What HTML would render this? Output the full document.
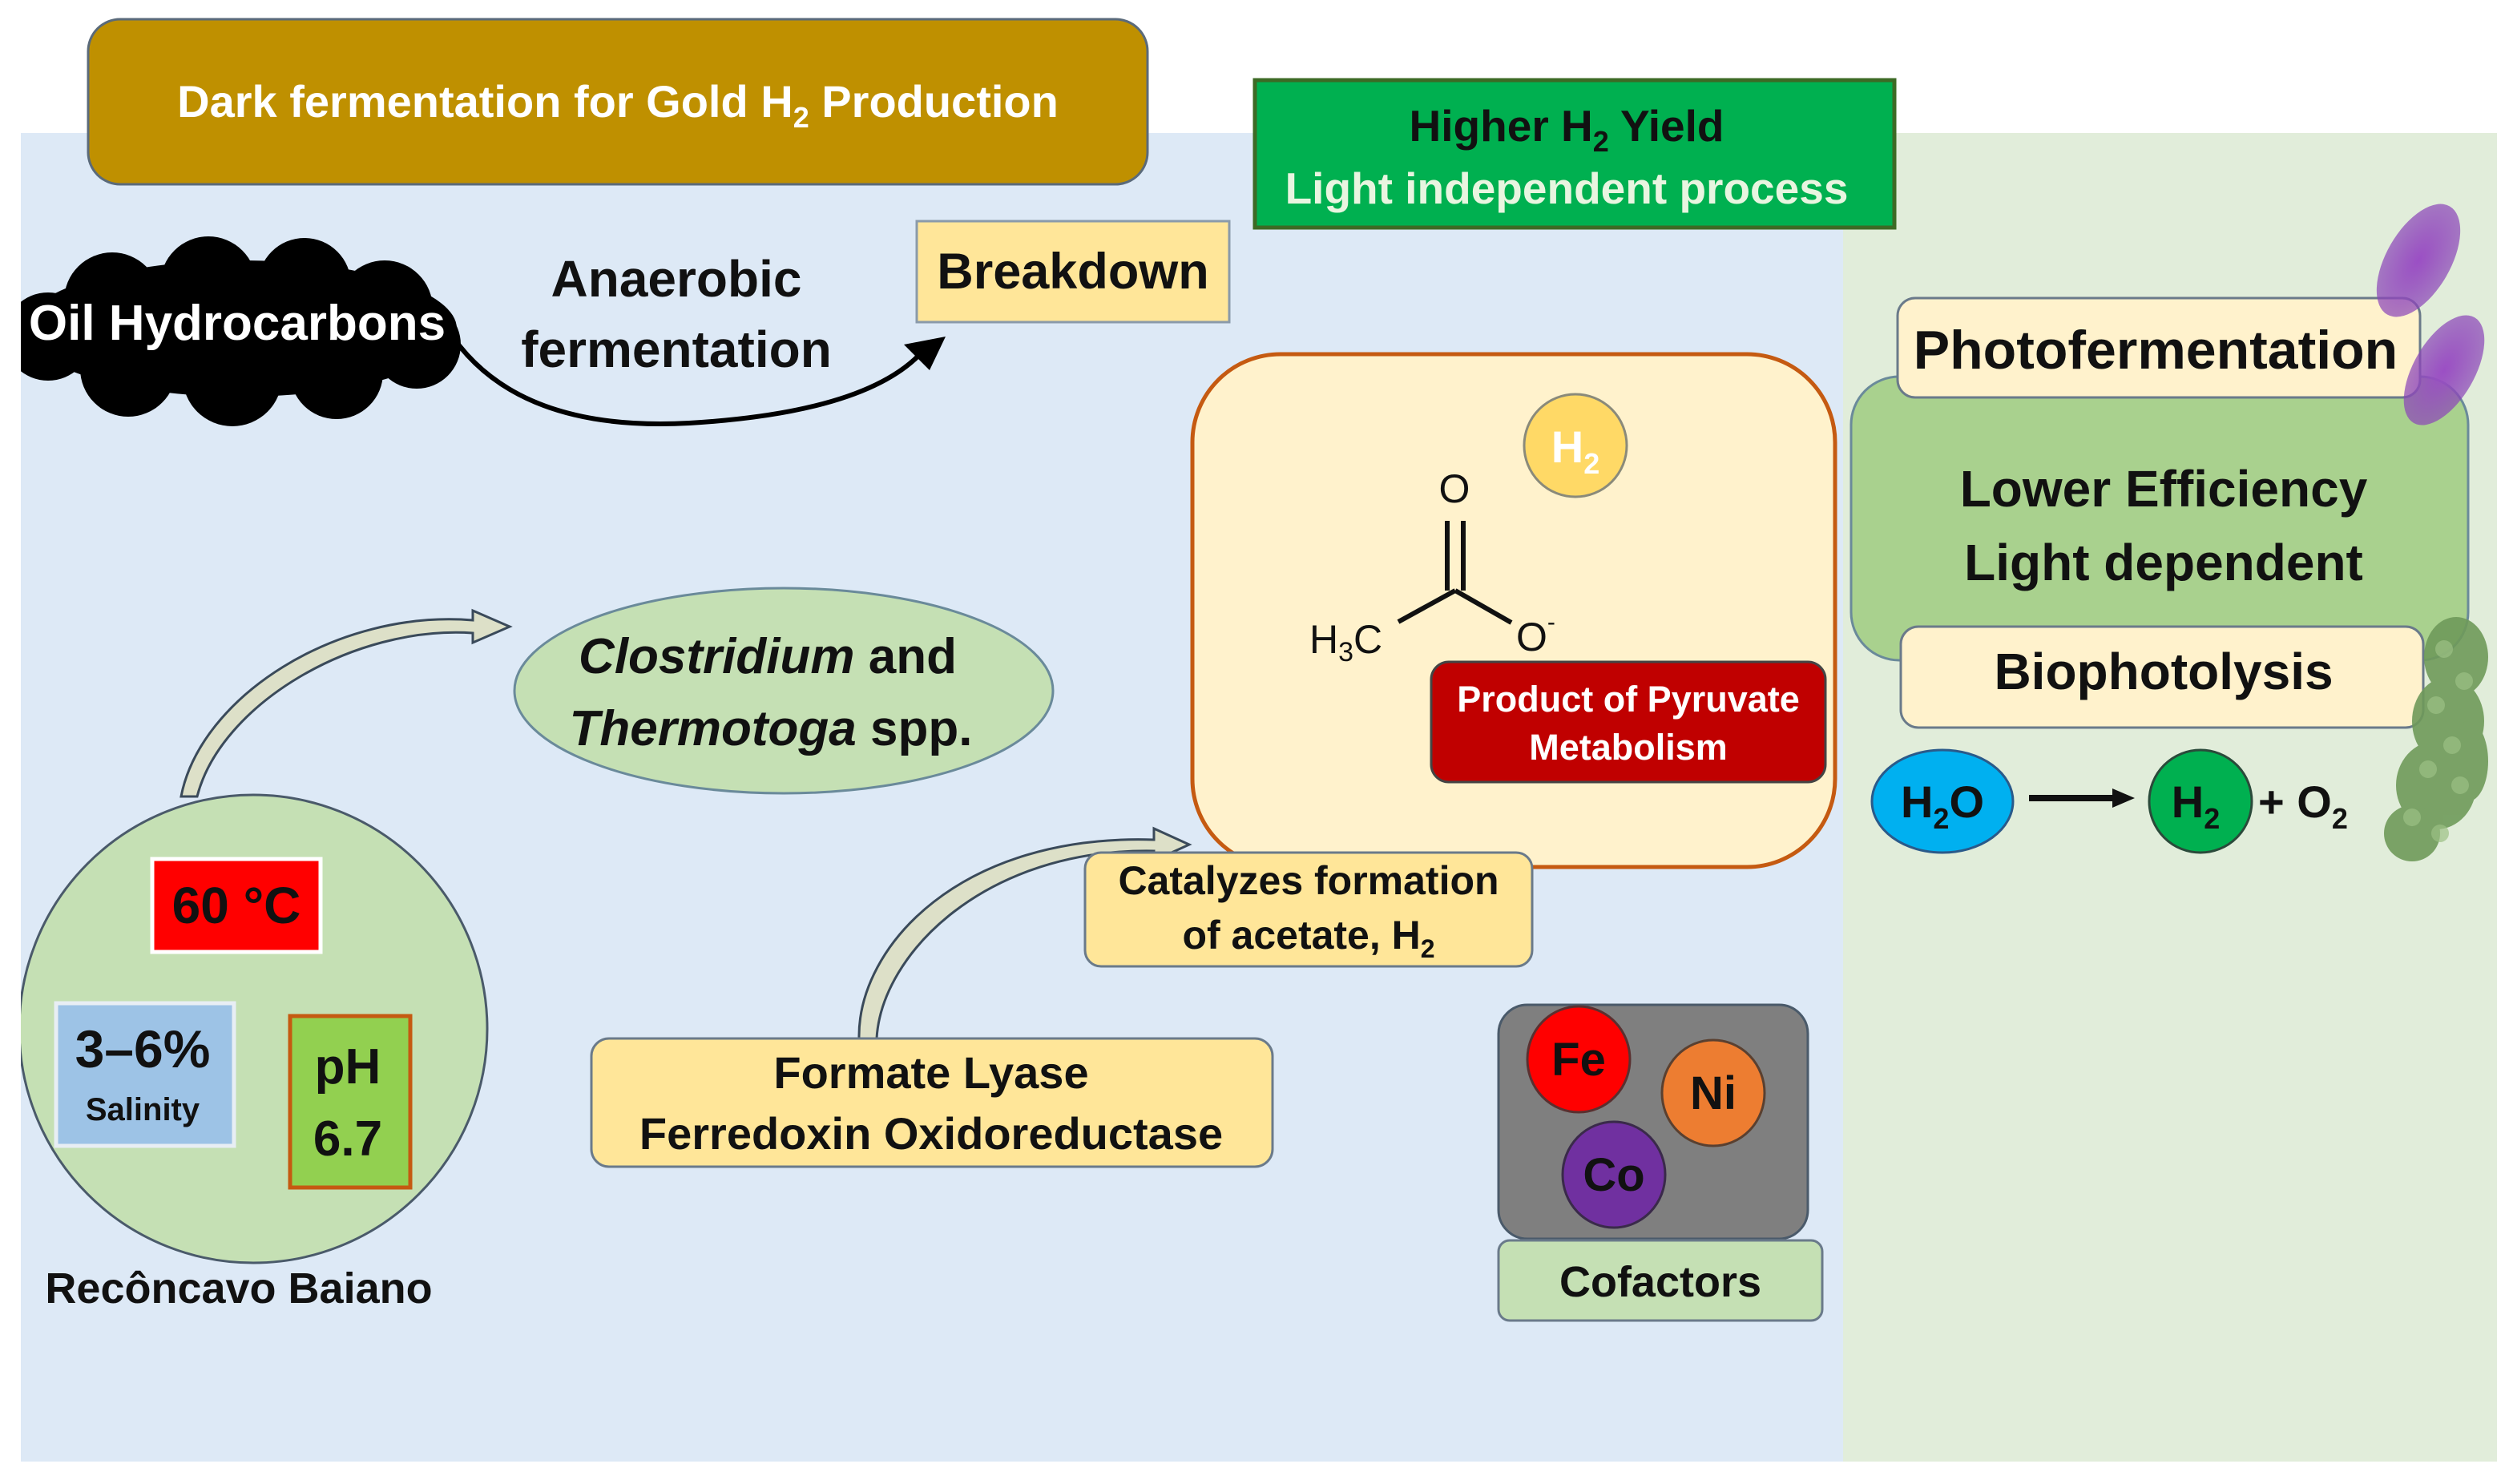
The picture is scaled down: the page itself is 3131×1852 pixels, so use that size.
<!DOCTYPE html>
<html><head><meta charset="utf-8"><style>
html,body{margin:0;padding:0;background:#fff;}
svg{display:block;}
text{font-family:"Liberation Sans",sans-serif;font-weight:bold;}
</style></head><body>
<svg width="3131" height="1852" viewBox="0 0 3131 1852" xmlns="http://www.w3.org/2000/svg">
<defs>
<clipPath id="cl"><rect x="26" y="0" width="3100" height="1852"/></clipPath>
<radialGradient id="pg" cx="50%" cy="50%" r="50%"><stop offset="0" stop-color="#9b4fc4"/><stop offset="1" stop-color="#8a44b8" stop-opacity="0.7"/></radialGradient>
</defs>
<rect x="26" y="166" width="2274" height="1658" fill="#dde9f6"/>
<rect x="2300" y="166" width="816" height="1658" fill="#e1edda"/>

<rect x="110" y="24" width="1322" height="206" rx="40" fill="#bf9000" stroke="#5a6a7a" stroke-width="3"/>
<text x="771" y="146" font-size="56" fill="#fff" text-anchor="middle">Dark fermentation for Gold H<tspan font-size="36" dy="13">2</tspan><tspan dy="-13"> Production</tspan></text>

<rect x="1566" y="100" width="798" height="184" fill="#00b050" stroke="#3d6a25" stroke-width="5"/>
<text x="1955" y="176" font-size="55" fill="#111" text-anchor="middle">Higher H<tspan font-size="36" dy="13">2</tspan><tspan dy="-13"> Yield</tspan></text>
<text x="1955" y="254" font-size="55" fill="#e8f5e0" text-anchor="middle">Light independent process</text>

<rect x="1144" y="276" width="390" height="126" fill="#ffe699" stroke="#8a9aaa" stroke-width="3"/>
<text x="1339" y="360" font-size="63" fill="#111" text-anchor="middle">Breakdown</text>

<g fill="#000" clip-path="url(#cl)">
<ellipse cx="300" cy="410" rx="270" ry="85"/>
<circle cx="140" cy="375" r="60"/><circle cx="260" cy="355" r="60"/><circle cx="380" cy="355" r="58"/>
<circle cx="480" cy="385" r="60"/><circle cx="520" cy="430" r="55"/><circle cx="420" cy="465" r="58"/>
<circle cx="290" cy="470" r="62"/><circle cx="160" cy="460" r="60"/><circle cx="60" cy="420" r="55"/>
</g>
<text x="296" y="424" font-size="62" fill="#fff" text-anchor="middle">Oil Hydrocarbons</text>

<text x="844" y="370" font-size="64" fill="#111" text-anchor="middle">Anaerobic</text>
<text x="844" y="458" font-size="64" fill="#111" text-anchor="middle">fermentation</text>
<path d="M558 410 Q640 540 860 528 Q1080 515 1150 440" fill="none" stroke="#000" stroke-width="6"/>
<polygon points="1180,420 1128,430 1160,462" fill="#000"/>

<rect x="1488" y="442" width="802" height="640" rx="110" fill="#fff2cc" stroke="#c55a11" stroke-width="5"/>
<circle cx="1966" cy="556" r="64" fill="#ffd966" stroke="#8a8a7a" stroke-width="3"/>
<text x="1966" y="577" font-size="56" fill="#fff" text-anchor="middle">H<tspan font-size="36" dy="14">2</tspan></text>
<g stroke="#111" stroke-width="6" fill="none">
<line x1="1806" y1="650" x2="1806" y2="737"/><line x1="1826" y1="650" x2="1826" y2="737"/>
<line x1="1816" y1="737" x2="1745" y2="776"/><line x1="1816" y1="737" x2="1886" y2="777"/>
</g>
<text x="1815" y="627" font-size="50" fill="#111" text-anchor="middle" style="font-weight:normal">O</text>
<text x="1634" y="815" font-size="50" fill="#111" style="font-weight:normal">H<tspan font-size="34" dy="10">3</tspan><tspan dy="-10">C</tspan></text>
<text x="1892" y="812" font-size="50" fill="#111" style="font-weight:normal">O<tspan font-size="30" dy="-26">-</tspan></text>
<rect x="1786" y="826" width="492" height="150" rx="22" fill="#c00000" stroke="#444" stroke-width="3"/>
<text x="2032" y="888" font-size="45" fill="#fff" text-anchor="middle">Product of Pyruvate</text>
<text x="2032" y="948" font-size="45" fill="#fff" text-anchor="middle">Metabolism</text>

<rect x="2310" y="470" width="770" height="354" rx="60" fill="#a9d18e" stroke="#6a8a9a" stroke-width="3"/>
<rect x="2368" y="372" width="652" height="124" rx="22" fill="#fff2cc" stroke="#6a7a8a" stroke-width="3"/>
<text x="2690" y="460" font-size="68" fill="#111" text-anchor="middle">Photofermentation</text>
<text x="2700" y="632" font-size="64" fill="#111" text-anchor="middle">Lower Efficiency</text>
<text x="2700" y="724" font-size="64" fill="#111" text-anchor="middle">Light dependent</text>
<rect x="2372" y="782" width="652" height="126" rx="22" fill="#fff2cc" stroke="#6a7a8a" stroke-width="3"/>
<text x="2700" y="860" font-size="64" fill="#111" text-anchor="middle">Biophotolysis</text>
<ellipse cx="3018" cy="325" rx="40" ry="78" transform="rotate(30 3018 325)" fill="url(#pg)"/>
<ellipse cx="3050" cy="462" rx="38" ry="76" transform="rotate(30 3050 462)" fill="url(#pg)"/>
<g fill="#6f9a5a" opacity="0.9">
<ellipse cx="3065" cy="820" rx="40" ry="50"/><ellipse cx="3055" cy="900" rx="45" ry="55"/><ellipse cx="3040" cy="980" rx="50" ry="55"/><ellipse cx="3010" cy="1040" rx="35" ry="35"/><ellipse cx="3080" cy="950" rx="25" ry="50"/>
</g>
<g fill="#9cc084" opacity="0.7">
<circle cx="3050" cy="810" r="11"/><circle cx="3075" cy="850" r="11"/><circle cx="3040" cy="880" r="11"/><circle cx="3060" cy="930" r="11"/><circle cx="3030" cy="960" r="11"/><circle cx="3070" cy="980" r="11"/><circle cx="3010" cy="1020" r="11"/><circle cx="3045" cy="1040" r="11"/>
</g>
<ellipse cx="2424" cy="1000" rx="88" ry="64" fill="#00b0f0" stroke="#2a5a8a" stroke-width="3"/>
<text x="2424" y="1020" font-size="56" fill="#111" text-anchor="middle">H<tspan font-size="36" dy="14">2</tspan><tspan dy="-14">O</tspan></text>
<line x1="2532" y1="996" x2="2640" y2="996" stroke="#111" stroke-width="8"/>
<polygon points="2664,996 2636,984 2636,1008" fill="#111"/>
<ellipse cx="2746" cy="1000" rx="64" ry="64" fill="#00b050" stroke="#2a4a3a" stroke-width="3"/>
<text x="2740" y="1020" font-size="56" fill="#111" text-anchor="middle">H<tspan font-size="36" dy="14">2</tspan></text>
<text x="2818" y="1020" font-size="56" fill="#111">+ O<tspan font-size="36" dy="14">2</tspan></text>

<ellipse cx="978" cy="862" rx="336" ry="128" fill="#c5e0b4" stroke="#6a8a9a" stroke-width="3"/>
<text x="958" y="840" font-size="62" fill="#111" text-anchor="middle"><tspan font-style="italic">Clostridium</tspan> and</text>
<text x="962" y="930" font-size="62" fill="#111" text-anchor="middle"><tspan font-style="italic">Thermotoga</tspan> spp.</text>

<g clip-path="url(#cl)">
<ellipse cx="316" cy="1284" rx="292" ry="292" fill="#c5e0b4" stroke="#4a5a6a" stroke-width="3"/>
</g>
<rect x="190" y="1072" width="210" height="116" fill="#ff0000" stroke="#fff" stroke-width="5"/>
<text x="295" y="1152" font-size="64" fill="#111" text-anchor="middle">60 °C</text>
<rect x="70" y="1252" width="222" height="178" fill="#9dc3e6" stroke="#e8eef4" stroke-width="5"/>
<text x="178" y="1332" font-size="66" fill="#111" text-anchor="middle">3–6%</text>
<text x="178" y="1398" font-size="40" fill="#111" text-anchor="middle">Salinity</text>
<rect x="362" y="1268" width="150" height="214" fill="#92d050" stroke="#c55a11" stroke-width="5"/>
<text x="434" y="1352" font-size="62" fill="#111" text-anchor="middle">pH</text>
<text x="434" y="1442" font-size="62" fill="#111" text-anchor="middle">6.7</text>
<text x="298" y="1626" font-size="54" fill="#111" text-anchor="middle">Recôncavo Baiano</text>

<path d="M226 994 C250 870 420 760 590 774 L590 762 L636 782 L590 802 L590 790 C440 780 275 880 246 994 Z" fill="#dde0c8" stroke="#3a4a5a" stroke-width="3"/>
<path d="M1072 1296 C1070 1180 1200 1040 1440 1048 L1440 1034 L1484 1054 L1440 1074 L1440 1062 C1230 1058 1100 1190 1094 1296 Z" fill="#dde0c8" stroke="#3a4a5a" stroke-width="3"/>

<rect x="738" y="1296" width="850" height="160" rx="22" fill="#ffe699" stroke="#6a7a8a" stroke-width="3"/>
<text x="1162" y="1358" font-size="56" fill="#111" text-anchor="middle">Formate Lyase</text>
<text x="1162" y="1434" font-size="56" fill="#111" text-anchor="middle">Ferredoxin Oxidoreductase</text>

<rect x="1354" y="1064" width="558" height="142" rx="20" fill="#ffe699" stroke="#6a7a8a" stroke-width="3"/>
<text x="1633" y="1116" font-size="50" fill="#111" text-anchor="middle">Catalyzes formation</text>
<text x="1633" y="1184" font-size="50" fill="#111" text-anchor="middle">of acetate, H<tspan font-size="32" dy="11">2</tspan></text>

<rect x="1870" y="1254" width="386" height="292" rx="36" fill="#7f7f7f" stroke="#4a5a6a" stroke-width="3"/>
<ellipse cx="1970" cy="1322" rx="64" ry="66" fill="#ff0000" stroke="#5a3030" stroke-width="3"/>
<text x="1970" y="1342" font-size="58" fill="#111" text-anchor="middle">Fe</text>
<ellipse cx="2138" cy="1364" rx="64" ry="66" fill="#ed7d31" stroke="#5a4030" stroke-width="3"/>
<text x="2138" y="1384" font-size="58" fill="#111" text-anchor="middle">Ni</text>
<ellipse cx="2014" cy="1466" rx="64" ry="66" fill="#7030a0" stroke="#3a2a4a" stroke-width="3"/>
<text x="2014" y="1486" font-size="58" fill="#111" text-anchor="middle">Co</text>
<rect x="1870" y="1548" width="404" height="100" rx="14" fill="#c5e0b4" stroke="#6a7a8a" stroke-width="3"/>
<text x="2072" y="1618" font-size="54" fill="#111" text-anchor="middle">Cofactors</text>
</svg>
</body></html>
